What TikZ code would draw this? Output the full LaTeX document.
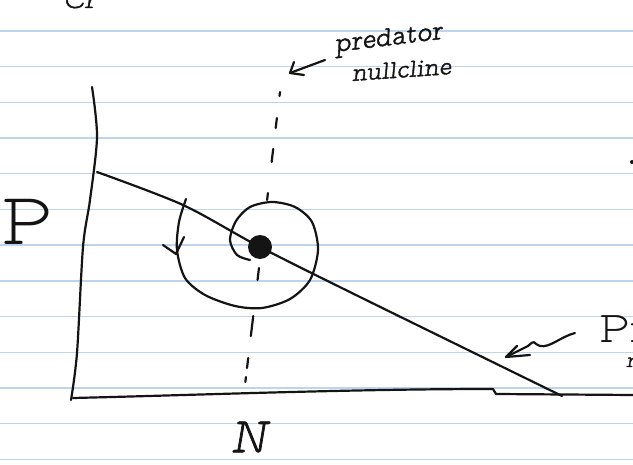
\documentclass[tikz,border=0pt]{standalone}
\usepackage{fontspec}
\newfontfamily\hand[FakeBold=1.5]{lmmonoproplt10-oblique.otf}
\newfontfamily\handup{lmmonoproplt10-regular.otf}
\definecolor{inkc}{HTML}{141414}
\definecolor{rulec}{HTML}{BCD4EE}
\begin{document}
\begin{tikzpicture}[x=1pt,y=-1pt,
  ink/.style={draw=inkc, line width=2.2pt, line cap=round, line join=round},
  rule/.style={draw=rulec, line width=1.4pt},
  hw/.style={inner sep=0pt, text=inkc}]
\useasboundingbox (0,0) rectangle (633,465);
\clip (0,0) rectangle (633,465);
\fill[white] (0,0) rectangle (633,465);
% ruled paper
\foreach \k in {0,...,12} \draw[rule] (0,{31+35.7*\k}) -- (633,{31+35.7*\k});
% axes
\draw[ink] plot[smooth] coordinates {(92,87) (97,137) (90,200) (83,247) (77,353) (71,400)};
\draw[ink] (73,398) .. controls (200,395) and (350,389) .. (493,389) -- (496,394) -- (633,395);
% prey nullcline
\draw[ink] plot[smooth] coordinates {(97,172) (183,205) (260,247) (360,297) (562,396)};
% predator nullcline (dashed by hand)
\foreach \a/\b in {92/96, 118/128, 149/162, 193/200, 268/280, 316/336, 358/368, 377/382}
  \draw[ink] ({280-0.1195*(\a-92)},\a) -- ({280-0.1195*(\b-92)},\b);
% spiral into the equilibrium
\draw[ink] plot[smooth] coordinates {(186,199) (179,222) (177,250) (185,278) (205,295) (235,306) (262,308) (290,299) (310,280) (318,250) (312,222) (295,207) (272,202) (250,207) (236,221) (230,240) (237,255) (250,260)};
\draw[ink] (163,245) -- (176,254) -- (184,237);
\fill[inkc] (260,247) circle (12);
% labels
\node[hw, font=\handup\fontsize{74}{74}\selectfont] (P) at (27,222) {P};
\node[hw, font=\hand\fontsize{50}{50}\selectfont] (N) at (249,437) {N};
\node[hw, font=\hand\fontsize{28}{28}\selectfont, rotate=7, anchor=base west] (pred) at (335,52) {predator};
\node[hw, font=\hand\fontsize{26}{26}\selectfont, rotate=4, anchor=base west] (null) at (352,81) {nullcline};
\coordinate (pa1) at (325,60);
\coordinate (pa2) at (290,73);
\draw[ink] (pa1) -- (pa2);
\draw[ink] (294,62) -- (pa2) -- (304,75);
% right-hand fragments
\node[hw, font=\handup\fontsize{44}{44}\selectfont, anchor=base west] (prey) at (599,343) {Pr};
\node[hw, font=\hand\fontsize{22}{22}\selectfont, anchor=base west] (n2) at (626,367) {n};
\node[hw, font=\hand\fontsize{28}{28}\selectfont, anchor=base west] (cr) at (63,8) {Cr};
\fill[inkc] (632,162) circle (2);
% wavy arrow to prey nullcline
\coordinate (wa1) at (575,333);
\coordinate (wa2) at (506,357);
\draw[ink] (wa1) .. controls (560,337) and (550,348) .. (540,346) .. controls (532,343) and (536,339) .. (528,346) -- (wa2);
\draw[ink] (517,346) -- (wa2) -- (530,355);
\end{tikzpicture}
\end{document}
